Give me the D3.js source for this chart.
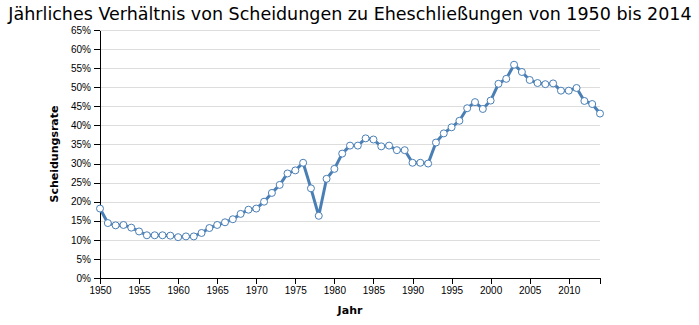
<!DOCTYPE html>
<html>
<head>
<meta charset="utf-8">
<script src="https://cdn.jsdelivr.net/npm/d3@7"></script>
<style>
  body { margin: 0; background: #fff; }
  svg { display: block; font-family: "DejaVu Sans", sans-serif; }
  .axis path, .axis line { stroke: #000; shape-rendering: crispEdges; }
  .axis text { font-size: 10px; fill: #000; }
  .grid line { stroke: #ddd; stroke-width: 1.5px; shape-rendering: crispEdges; }
</style>
</head>
<body>
<svg id="chart" width="699" height="325"></svg>
<script>
// Jährliche Scheidungsrate (Scheidungen je 100 Eheschließungen), 1950–2014
const years = d3.range(1950, 2015);
const rates = [
  18.2, 14.4, 13.8, 13.9, 13.2, 12.2, 11.2, 11.2, 11.2, 11.1,
  10.7, 10.9, 10.9, 11.8, 13.1, 13.9, 14.6, 15.4, 16.8, 17.9,
  18.2, 20.0, 22.3, 24.4, 27.4, 28.2, 30.2, 23.5, 16.3, 26.0,
  28.6, 32.6, 34.7, 34.7, 36.6, 36.3, 34.5, 34.7, 33.5, 33.5,
  30.2, 30.2, 30.0, 35.5, 37.9, 39.5, 41.2, 44.5, 46.1, 44.3,
  46.5, 50.9, 52.2, 55.9, 54.0, 51.9, 51.1, 50.8, 51.0, 49.1,
  49.1, 49.8, 46.4, 45.6, 43.1
];
const yTicks = d3.range(0, 66, 5);
const xTicks = d3.range(1950, 2014, 5);

const titleText = "Jährliches Verhältnis von Scheidungen zu Eheschließungen von 1950 bis 2014";
const xLabel = "Jahr";
const yLabel = "Scheidungsrate";

const data = years.map((y, i) => ({ year: y, rate: rates[i] }));

const svg = d3.select("#chart");
const margin = { top: 30, right: 99, bottom: 47, left: 100 };
const width = 699 - margin.left - margin.right;
const height = 325 - margin.top - margin.bottom;

const x = d3.scaleLinear().domain([1950, 2014]).range([0, width]);
const y = d3.scaleLinear().domain([0, 65]).range([height, 0]);

const g = svg.append("g").attr("transform", `translate(${margin.left},${margin.top})`);

// horizontal gridlines
g.append("g").attr("class", "grid")
  .selectAll("line")
  .data(yTicks.filter(t => t > 0))
  .join("line")
  .attr("x1", 0).attr("x2", width)
  .attr("y1", d => Math.round(y(d)) + 0.5).attr("y2", d => Math.round(y(d)) + 0.5);

// axes
g.append("g").attr("class", "axis")
  .attr("transform", `translate(0,${height})`)
  .call(d3.axisBottom(x).tickValues(xTicks).tickFormat(d3.format("d")).tickSizeOuter(6));

g.append("g").attr("class", "axis")
  .call(d3.axisLeft(y).tickValues(yTicks).tickFormat(d => d + "%").tickSizeOuter(0));

// line and points
const line = d3.line().x(d => x(d.year)).y(d => y(d.rate));
g.append("path")
  .datum(data)
  .attr("fill", "none")
  .attr("stroke", "#4a7fb5")
  .attr("stroke-width", 3)
  .attr("stroke-linejoin", "round")
  .attr("d", line);

g.append("g")
  .selectAll("circle")
  .data(data)
  .join("circle")
  .attr("cx", d => x(d.year))
  .attr("cy", d => y(d.rate))
  .attr("r", 3.5)
  .attr("fill", "#fff")
  .attr("stroke", "#4a7fb5")
  .attr("stroke-width", 1);

// titles
svg.append("text")
  .attr("x", 350).attr("y", 20)
  .attr("text-anchor", "middle")
  .style("font-size", "17.5px")
  .text(titleText);

svg.append("text")
  .attr("x", margin.left + width / 2).attr("y", 314)
  .attr("text-anchor", "middle")
  .style("font-size", "11px").style("font-weight", "bold")
  .text(xLabel);

svg.append("text")
  .attr("transform", `translate(58,${margin.top + height / 2}) rotate(-90)`)
  .attr("text-anchor", "middle")
  .style("font-size", "11px").style("font-weight", "bold")
  .text(yLabel);
</script>
</body>
</html>
